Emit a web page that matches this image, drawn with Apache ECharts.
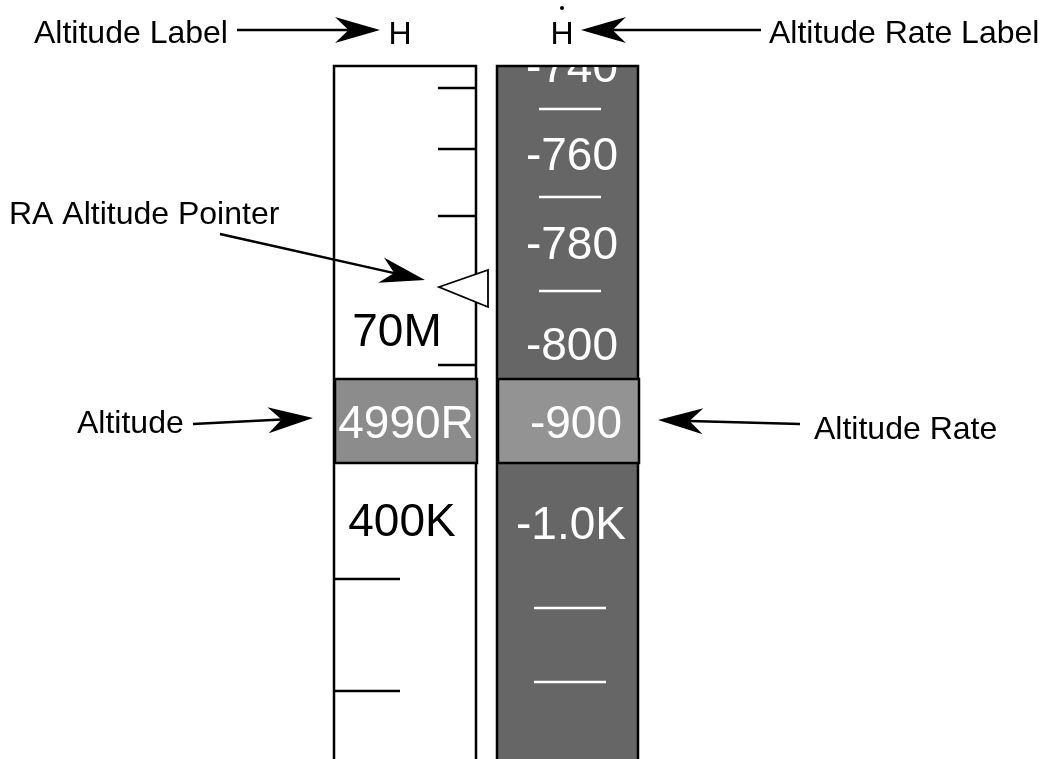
<!DOCTYPE html>
<html><head><meta charset="utf-8">
<script src="https://cdn.jsdelivr.net/npm/echarts@6/dist/echarts.min.js"></script>
<style>html,body{margin:0;padding:0;background:#fff}#c{width:1045px;height:759px}</style>
</head><body><div id="c"></div>
<script>
// ---- diagram data (units of the hidden x/y axes: x 0..1045, y 0..759 top-down) ----
const tapeRects = [[334, 66, 476, 762], [497, 66, 638, 762]];           // altitude tape, altitude-rate tape
const altTicks = [[438, 476, 88], [438, 476, 149], [438, 476, 216], [438, 476, 365], [335, 400, 579], [335, 400, 691]];
const altLabels = ['70M', '400K'];
const altLabelPos = [[397, 333], [402, 523]];
const rateTicks = [[539, 601, 109], [539, 601, 197], [539, 601, 291], [534, 606, 608], [534, 606, 682]];
const rateLabels = ['-740', '-760', '-780', '-800', '-1.0K'];
const rateLabelPos = [[572, 69], [572, 157], [572, 246], [572, 347], [571, 526]];
const readoutBoxes = [[335, 379, 477, 463], [498, 379, 639, 463]];
const readoutTexts = ['4990R', '-900'];
const readoutPos = [[406, 425], [576, 425]];
const pointerTri = [[439, 287], [488, 270], [488, 307]];
const headerTexts = ['H', 'H'];
const headerPos = [[400, 35], [562, 35]];
const headerDot = [[562, 8]];
const calloutTexts = ['Altitude Label', 'Altitude Rate Label', 'RA Altitude Pointer', 'Altitude', 'Altitude Rate'];
const calloutPos = [[34, 34], [769, 34], [9, 215], [77, 424], [814, 430]];
const calloutArrows = [[237, 30, 380, 30], [761, 30, 581, 30], [220, 234, 425, 280], [193, 424, 313, 418], [800, 424, 658, 420]];

const FONT = '"Liberation Sans", Arial, Helvetica, sans-serif';
const chart = echarts.init(document.getElementById('c'));

function textItems(texts, pos, size, color, align) {
  return {
    type: 'custom', clip: false, data: pos,
    renderItem(params, api) {
      const p = api.coord([api.value(0), api.value(1)]);
      return { type: 'text', x: p[0], y: p[1], style: {
        text: texts[params.dataIndex], fill: color, font: size + 'px ' + FONT,
        align: align, verticalAlign: 'middle' } };
    }
  };
}

const series = [
  // tapes
  { type: 'custom', clip: false, data: tapeRects,
    renderItem(params, api) {
      const a = api.coord([api.value(0), api.value(1)]);
      const b = api.coord([api.value(2), api.value(3)]);
      return { type: 'rect', shape: { x: a[0], y: a[1], width: b[0] - a[0], height: b[1] - a[1] },
        style: { fill: params.dataIndex === 0 ? '#ffffff' : '#666666', stroke: '#000', lineWidth: 2.5 } };
    } },
  // altitude tape ticks
  { type: 'custom', clip: false, data: altTicks,
    renderItem(params, api) {
      const a = api.coord([api.value(0), api.value(2)]);
      const b = api.coord([api.value(1), api.value(2)]);
      return { type: 'line', shape: { x1: a[0], y1: a[1], x2: b[0], y2: b[1] }, style: { stroke: '#000', lineWidth: 2.5 } };
    } },
  // rate tape ticks
  { type: 'custom', clip: false, data: rateTicks,
    renderItem(params, api) {
      const a = api.coord([api.value(0), api.value(2)]);
      const b = api.coord([api.value(1), api.value(2)]);
      return { type: 'line', shape: { x1: a[0], y1: a[1], x2: b[0], y2: b[1] }, style: { stroke: '#fff', lineWidth: 2.5 } };
    } },
  textItems(altLabels, altLabelPos, 46, '#000', 'center'),
  // rate labels clipped to the tape
  { type: 'custom', clip: false, data: rateLabelPos,
    renderItem(params, api) {
      const p = api.coord([api.value(0), api.value(1)]);
      const t = api.coord([tapeRects[1][0], tapeRects[1][1]]);
      const q = api.coord([tapeRects[1][2], tapeRects[1][3]]);
      return { type: 'group',
        clipPath: { type: 'rect', shape: { x: t[0], y: t[1] + 1, width: q[0] - t[0], height: q[1] - t[1] } },
        children: [{ type: 'text', x: p[0], y: p[1], style: {
          text: rateLabels[params.dataIndex], fill: '#fff', font: '46px ' + FONT,
          align: 'center', verticalAlign: 'middle' } }] };
    } },
  // readout boxes
  { type: 'custom', clip: false, data: readoutBoxes,
    renderItem(params, api) {
      const a = api.coord([api.value(0), api.value(1)]);
      const b = api.coord([api.value(2), api.value(3)]);
      return { type: 'rect', shape: { x: a[0], y: a[1], width: b[0] - a[0], height: b[1] - a[1] },
        style: { fill: params.dataIndex === 0 ? '#8c8c8c' : '#939393', stroke: '#000', lineWidth: 2.5 } };
    } },
  textItems(readoutTexts, readoutPos, 46, '#fff', 'center'),
  // RA altitude pointer
  { type: 'custom', clip: false, data: [0],
    renderItem(params, api) {
      const pts = pointerTri.map(p => api.coord(p));
      return { type: 'polygon', shape: { points: pts }, style: { fill: '#fff', stroke: '#000', lineWidth: 1.8 } };
    } },
  textItems(headerTexts, headerPos, 32, '#000', 'center'),
  { type: 'custom', clip: false, data: headerDot,
    renderItem(params, api) {
      const p = api.coord([api.value(0), api.value(1)]);
      return { type: 'circle', shape: { cx: p[0], cy: p[1], r: 2 }, style: { fill: '#000' } };
    } },
  textItems(calloutTexts, calloutPos, 32, '#000', 'left'),
  // callout arrows
  { type: 'custom', clip: false, data: calloutArrows,
    renderItem(params, api) {
      const s = api.coord([api.value(0), api.value(1)]);
      const e = api.coord([api.value(2), api.value(3)]);
      const dx = e[0] - s[0], dy = e[1] - s[1];
      const len = Math.hypot(dx, dy), ux = dx / len, uy = dy / len, nx = -uy, ny = ux;
      const L = 45, W = 13, N = 0.7 * L;
      const notch = [e[0] - ux * N, e[1] - uy * N];
      return { type: 'group', children: [
        { type: 'line', shape: { x1: s[0], y1: s[1], x2: notch[0], y2: notch[1] }, style: { stroke: '#000', lineWidth: 2.5 } },
        { type: 'polygon', shape: { points: [
          e, [e[0] - ux * L + nx * W, e[1] - uy * L + ny * W], notch, [e[0] - ux * L - nx * W, e[1] - uy * L - ny * W]
        ] }, style: { fill: '#000' } }
      ] };
    } }
];

chart.setOption({
  animation: false,
  backgroundColor: '#fff',
  grid: { left: 0, right: 0, top: 0, bottom: 0 },
  xAxis: { type: 'value', min: 0, max: 1045, show: false },
  yAxis: { type: 'value', min: 0, max: 759, inverse: true, show: false },
  series: series
});
</script></body></html>
